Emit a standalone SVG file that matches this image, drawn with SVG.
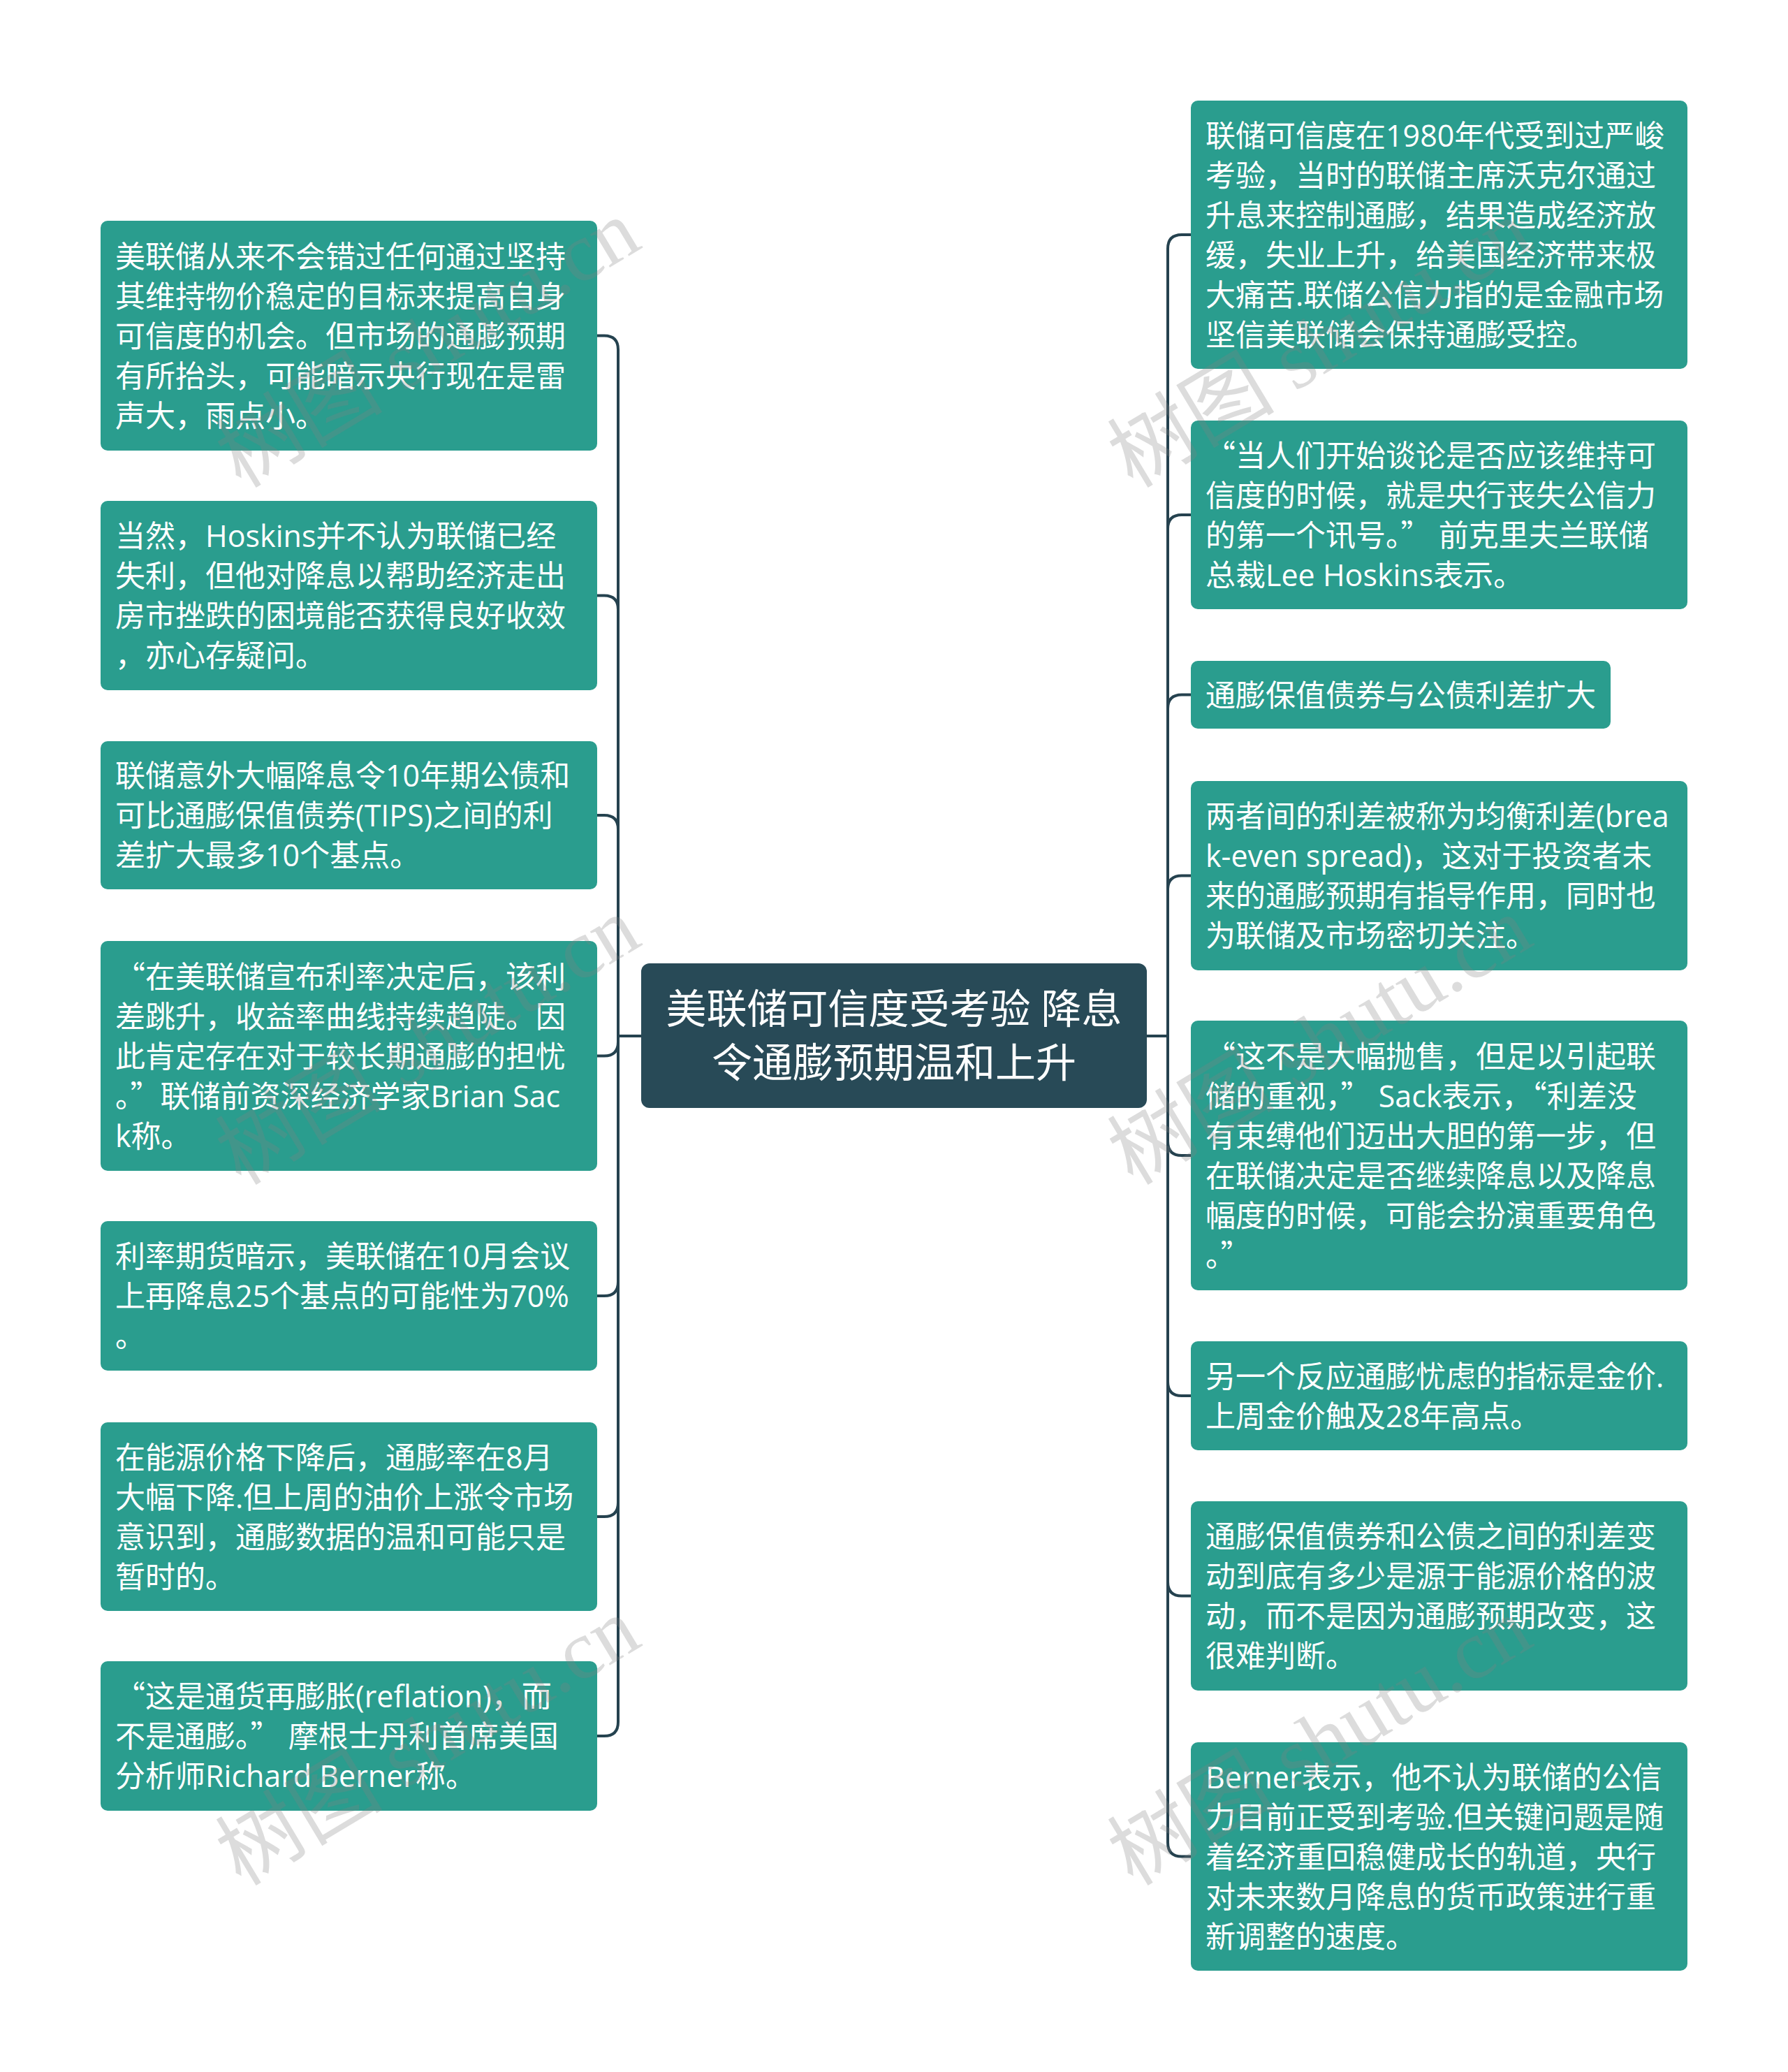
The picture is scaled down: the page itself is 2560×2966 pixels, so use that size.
<svg xmlns="http://www.w3.org/2000/svg" width="2560" height="2966" viewBox="0 0 2560 2966">
<style>
.bg{fill:#ffffff}
.box{fill:#2a9d8e}
.root{fill:#284a57}
.t{font-family:"Open Sans","Noto Sans CJK SC",sans-serif;font-size:43px;fill:#ffffff}
.rt{font-family:"Open Sans","Noto Sans CJK SC",sans-serif;font-size:58px;fill:#ffffff;text-anchor:middle}
.q{font-family:"Noto Sans CJK SC",sans-serif}
.edge{fill:none;stroke:#25424f;stroke-width:4}
.wm{font-family:"Liberation Serif","Noto Sans CJK SC",serif;font-size:120px;fill:#808080;fill-opacity:0.28}
</style>
<rect class="bg" x="0" y="0" width="2560" height="2966"/>
<g id="connectors">
<path class="edge" d="M918,1483 H885 V500.5 Q885,480.5 865,480.5 H855"/>
<path class="edge" d="M918,1483 H885 V872.5 Q885,852.5 865,852.5 H855"/>
<path class="edge" d="M918,1483 H885 V1187 Q885,1167 865,1167 H855"/>
<path class="edge" d="M918,1483 H885 V1491.5 Q885,1511.5 865,1511.5 H855"/>
<path class="edge" d="M918,1483 H885 V1835 Q885,1855 865,1855 H855"/>
<path class="edge" d="M918,1483 H885 V2151 Q885,2171 865,2171 H855"/>
<path class="edge" d="M918,1483 H885 V2465 Q885,2485 865,2485 H855"/>
<path class="edge" d="M1642,1483 H1672 V356 Q1672,336 1692,336 H1705"/>
<path class="edge" d="M1642,1483 H1672 V757 Q1672,737 1692,737 H1705"/>
<path class="edge" d="M1642,1483 H1672 V1014.5 Q1672,994.5 1692,994.5 H1705"/>
<path class="edge" d="M1642,1483 H1672 V1273.5 Q1672,1253.5 1692,1253.5 H1705"/>
<path class="edge" d="M1642,1483 H1672 V1634 Q1672,1654 1692,1654 H1705"/>
<path class="edge" d="M1642,1483 H1672 V1978 Q1672,1998 1692,1998 H1705"/>
<path class="edge" d="M1642,1483 H1672 V2264.5 Q1672,2284.5 1692,2284.5 H1705"/>
<path class="edge" d="M1642,1483 H1672 V2637.5 Q1672,2657.5 1692,2657.5 H1705"/>
</g>
<g id="root">
<rect class="root" x="918" y="1379" width="724" height="207" rx="12"/>
<text class="rt"><tspan x="1280" y="1465">美联储可信度受考验 降息</tspan><tspan x="1280" y="1542">令通膨预期温和上升</tspan></text>
</g>
<g id="L1">
<rect class="box" x="144" y="316" width="711" height="329" rx="10"/>
<text class="t"><tspan x="165" y="382.5">美联储从来不会错过任何通过坚持</tspan><tspan x="165" y="439.5">其维持物价稳定的目标来提高自身</tspan><tspan x="165" y="496.5">可信度的机会。但市场的通膨预期</tspan><tspan x="165" y="553.5">有所抬头，可能暗示央行现在是雷</tspan><tspan x="165" y="610.5">声大，雨点小。</tspan></text>
</g>
<g id="L2">
<rect class="box" x="144" y="717" width="711" height="271" rx="10"/>
<text class="t"><tspan x="165" y="783">当然，Hoskins并不认为联储已经</tspan><tspan x="165" y="840">失利，但他对降息以帮助经济走出</tspan><tspan x="165" y="897">房市挫跌的困境能否获得良好收效</tspan><tspan x="165" y="954">，亦心存疑问。</tspan></text>
</g>
<g id="L3">
<rect class="box" x="144" y="1061" width="711" height="212" rx="10"/>
<text class="t"><tspan x="165" y="1126">联储意外大幅降息令10年期公债和</tspan><tspan x="165" y="1183">可比通膨保值债券(TIPS)之间的利</tspan><tspan x="165" y="1240">差扩大最多10个基点。</tspan></text>
</g>
<g id="L4">
<rect class="box" x="144" y="1347" width="711" height="329" rx="10"/>
<text class="t"><tspan class="q" x="165" y="1413.5">“</tspan><tspan x="208" y="1413.5">在美联储宣布利率决定后，该利</tspan><tspan x="165" y="1470.5">差跳升，收益率曲线持续趋陡。因</tspan><tspan x="165" y="1527.5">此肯定存在对于较长期通膨的担忧</tspan><tspan x="165" y="1584.5">。<tspan class="q">”</tspan>联储前资深经济学家Brian Sac</tspan><tspan x="165" y="1641.5">k称。</tspan></text>
</g>
<g id="L5">
<rect class="box" x="144" y="1748" width="711" height="214" rx="10"/>
<text class="t"><tspan x="165" y="1814">利率期货暗示，美联储在10月会议</tspan><tspan x="165" y="1871">上再降息25个基点的可能性为70%</tspan><tspan x="165" y="1928">。</tspan></text>
</g>
<g id="L6">
<rect class="box" x="144" y="2036" width="711" height="270" rx="10"/>
<text class="t"><tspan x="165" y="2101.5">在能源价格下降后，通膨率在8月</tspan><tspan x="165" y="2158.5">大幅下降.但上周的油价上涨令市场</tspan><tspan x="165" y="2215.5">意识到，通膨数据的温和可能只是</tspan><tspan x="165" y="2272.5">暂时的。</tspan></text>
</g>
<g id="L7">
<rect class="box" x="144" y="2378" width="711" height="214" rx="10"/>
<text class="t"><tspan class="q" x="165" y="2444">“</tspan><tspan x="208" y="2444">这是通货再膨胀(reflation)，而</tspan><tspan x="165" y="2501">不是通膨。<tspan class="q">”</tspan> 摩根士丹利首席美国</tspan><tspan x="165" y="2558">分析师Richard Berner称。</tspan></text>
</g>
<g id="R1">
<rect class="box" x="1705" y="144" width="711" height="384" rx="10"/>
<text class="t"><tspan x="1726" y="209.5">联储可信度在1980年代受到过严峻</tspan><tspan x="1726" y="266.5">考验，当时的联储主席沃克尔通过</tspan><tspan x="1726" y="323.5">升息来控制通膨，结果造成经济放</tspan><tspan x="1726" y="380.5">缓，失业上升，给美国经济带来极</tspan><tspan x="1726" y="437.5">大痛苦.联储公信力指的是金融市场</tspan><tspan x="1726" y="494.5">坚信美联储会保持通膨受控。</tspan></text>
</g>
<g id="R2">
<rect class="box" x="1705" y="602" width="711" height="270" rx="10"/>
<text class="t"><tspan class="q" x="1726" y="667.5">“</tspan><tspan x="1769" y="667.5">当人们开始谈论是否应该维持可</tspan><tspan x="1726" y="724.5">信度的时候，就是央行丧失公信力</tspan><tspan x="1726" y="781.5">的第一个讯号。<tspan class="q">”</tspan> 前克里夫兰联储</tspan><tspan x="1726" y="838.5">总裁Lee Hoskins表示。</tspan></text>
</g>
<g id="R3">
<rect class="box" x="1705" y="946" width="601" height="97" rx="10"/>
<text class="t"><tspan x="1726" y="1010.5">通膨保值债券与公债利差扩大</tspan></text>
</g>
<g id="R4">
<rect class="box" x="1705" y="1118" width="711" height="271" rx="10"/>
<text class="t"><tspan x="1726" y="1184">两者间的利差被称为均衡利差(brea</tspan><tspan x="1726" y="1241">k-even spread)，这对于投资者未</tspan><tspan x="1726" y="1298">来的通膨预期有指导作用，同时也</tspan><tspan x="1726" y="1355">为联储及市场密切关注。</tspan></text>
</g>
<g id="R5">
<rect class="box" x="1705" y="1461" width="711" height="386" rx="10"/>
<text class="t"><tspan class="q" x="1726" y="1527.5">“</tspan><tspan x="1769" y="1527.5">这不是大幅抛售，但足以引起联</tspan><tspan x="1726" y="1584.5">储的重视，<tspan class="q">”</tspan> Sack表示，<tspan class="q">“</tspan>利差没</tspan><tspan x="1726" y="1641.5">有束缚他们迈出大胆的第一步，但</tspan><tspan x="1726" y="1698.5">在联储决定是否继续降息以及降息</tspan><tspan x="1726" y="1755.5">幅度的时候，可能会扮演重要角色</tspan><tspan x="1726" y="1812.5">。<tspan class="q">”</tspan></tspan></text>
</g>
<g id="R6">
<rect class="box" x="1705" y="1920" width="711" height="156" rx="10"/>
<text class="t"><tspan x="1726" y="1985.5">另一个反应通膨忧虑的指标是金价.</tspan><tspan x="1726" y="2042.5">上周金价触及28年高点。</tspan></text>
</g>
<g id="R7">
<rect class="box" x="1705" y="2149" width="711" height="271" rx="10"/>
<text class="t"><tspan x="1726" y="2215">通膨保值债券和公债之间的利差变</tspan><tspan x="1726" y="2272">动到底有多少是源于能源价格的波</tspan><tspan x="1726" y="2329">动，而不是因为通膨预期改变，这</tspan><tspan x="1726" y="2386">很难判断。</tspan></text>
</g>
<g id="R8">
<rect class="box" x="1705" y="2494" width="711" height="327" rx="10"/>
<text class="t"><tspan x="1726" y="2559.5">Berner表示，他不认为联储的公信</tspan><tspan x="1726" y="2616.5">力目前正受到考验.但关键问题是随</tspan><tspan x="1726" y="2673.5">着经济重回稳健成长的轨道，央行</tspan><tspan x="1726" y="2730.5">对未来数月降息的货币政策进行重</tspan><tspan x="1726" y="2787.5">新调整的速度。</tspan></text>
</g>
<g id="watermarks">
<text class="wm" transform="translate(345,700) rotate(-31)">树图 shutu.cn</text>
<text class="wm" transform="translate(345,1698) rotate(-31)">树图 shutu.cn</text>
<text class="wm" transform="translate(345,2701) rotate(-31)">树图 shutu.cn</text>
<text class="wm" transform="translate(1622,700) rotate(-31)">树图 shutu.cn</text>
<text class="wm" transform="translate(1622,1698) rotate(-31)">树图 shutu.cn</text>
<text class="wm" transform="translate(1622,2701) rotate(-31)">树图 shutu.cn</text>
</g>
</svg>
